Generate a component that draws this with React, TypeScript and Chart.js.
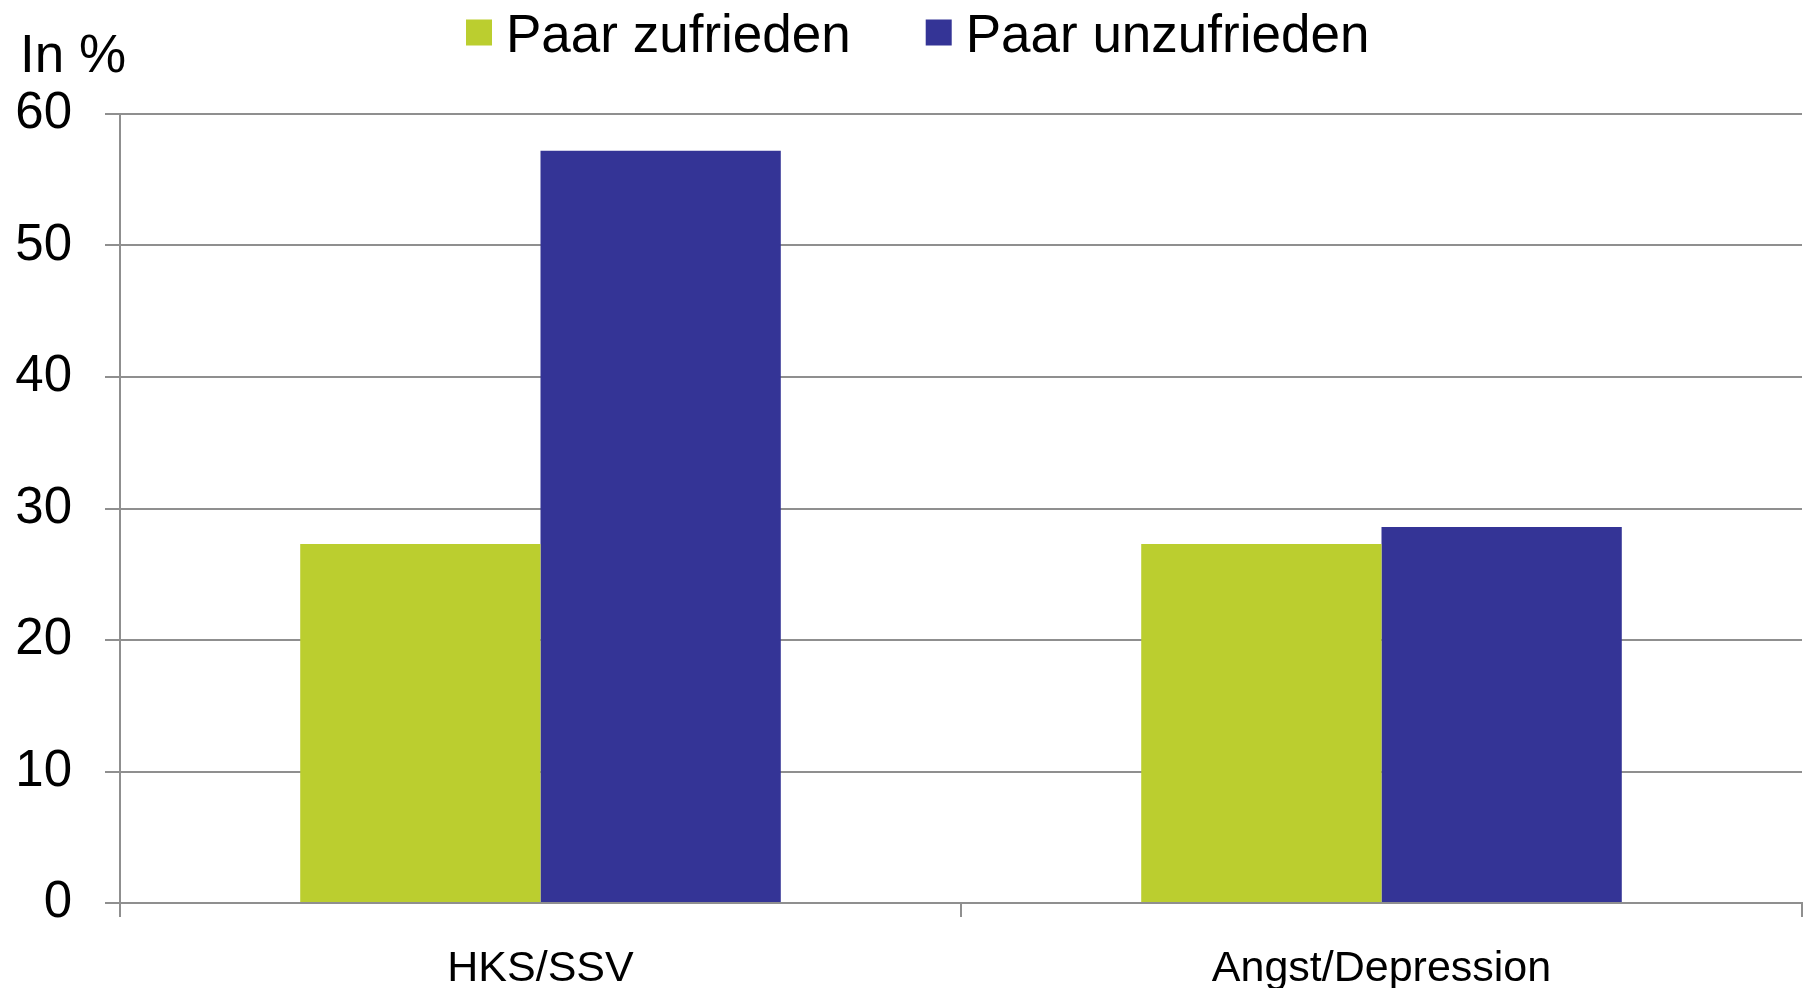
import React, { useEffect, useRef } from "react";
import { Chart, registerables } from "chart.js";

Chart.register(...registerables);

const categories = ["HKS/SSV", "Angst/Depression"];
const seriesNames = ["Paar zufrieden", "Paar unzufrieden"];
const zufrieden = [27.3, 27.3];
const unzufrieden = [57.2, 28.6];
const yTicks = [0, 10, 20, 30, 40, 50, 60];
const yAxisTitle = "In %";

const GREEN = "#BBCE2F";
const BLUE = "#343496";
const GRID = "#8f8f8f";
const FONT = "'Liberation Sans', Arial, Helvetica, sans-serif";

const overlayPlugin = {
  id: "overlay",
  afterDraw(chart: any) {
    const ctx = chart.ctx;
    ctx.save();
    ctx.fillStyle = "#000";
    ctx.textBaseline = "alphabetic";
    ctx.textAlign = "left";
    ctx.font = `53px ${FONT}`;
    ctx.fillText(yAxisTitle, 20, 72);

    // legend
    const items = chart.data.datasets.map((d: any) => ({ text: d.label, color: d.backgroundColor }));
    let x = 466;
    ctx.font = `53px ${FONT}`;
    items.forEach((it: any) => {
      ctx.fillStyle = it.color;
      ctx.fillRect(x, 19.5, 26, 26);
      ctx.fillStyle = "#000";
      ctx.fillText(it.text, x + 40, 52);
      x += 40 + ctx.measureText(it.text).width + 75;
    });
    ctx.restore();
  },
};

export default function App() {
  const ref = useRef<HTMLCanvasElement | null>(null);
  useEffect(() => {
    document.body.style.margin = "0";
    const canvas = ref.current!;
    const chart = new Chart(canvas, {
      type: "bar",
      data: {
        labels: categories,
        datasets: [
          { label: seriesNames[0], data: zufrieden, backgroundColor: GREEN, borderWidth: 0 },
          { label: seriesNames[1], data: unzufrieden, backgroundColor: BLUE, borderWidth: 0 },
        ],
      },
      options: {
        responsive: false,
        animation: false,
        devicePixelRatio: 1,
        layout: { padding: { top: 114, right: 2, left: 0, bottom: 0 } },
        plugins: {
          legend: { display: false },
          title: { display: false },
          tooltip: { enabled: false },
        },
        datasets: {
          bar: { categoryPercentage: 2 / 3.5, barPercentage: 1 },
        },
        scales: {
          x: {
            offset: true,
            grid: {
              offset: true,
              drawOnChartArea: false,
              drawTicks: true,
              tickLength: 14,
              color: GRID,
              lineWidth: 2,
            },
            border: { display: true, color: GRID, width: 2 },
            ticks: {
              color: "#000",
              font: { family: FONT, size: 43 },
              padding: 26,
              maxRotation: 0,
              autoSkip: false,
            },
            afterFit(scale: any) {
              scale.height = 85;
            },
          },
          y: {
            min: 0,
            max: 60,
            afterBuildTicks(scale: any) {
              scale.ticks = yTicks.map((v) => ({ value: v }));
            },
            grid: {
              drawTicks: true,
              tickLength: 15,
              color: GRID,
              lineWidth: 2,
            },
            border: { display: true, color: GRID, width: 2 },
            ticks: {
              color: "#000",
              font: { family: FONT, size: 51 },
              padding: 33,
            },
            afterFit(scale: any) {
              scale.width = 120;
            },
          },
        },
      },
      plugins: [overlayPlugin],
    });
    return () => chart.destroy();
  }, []);

  return (
    <div style={{ position: "fixed", left: 0, top: 0, width: 1804, height: 988, background: "#fff" }}>
      <canvas ref={ref} width={1804} height={988} style={{ width: 1804, height: 988, display: "block" }} />
    </div>
  );
}
